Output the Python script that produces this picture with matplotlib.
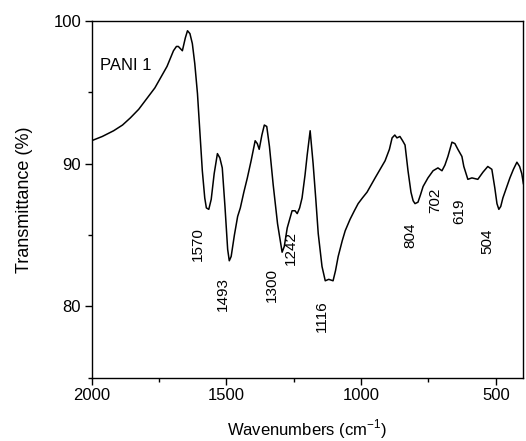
import matplotlib
matplotlib.use("Agg")
import matplotlib.pyplot as plt
from matplotlib.ticker import MultipleLocator

plt.rcParams['font.family'] = ['Liberation Sans', 'DejaVu Sans']
plt.rcParams['axes.unicode_minus'] = False

wavenumber = [2000, 1960, 1918, 1885, 1856, 1825, 1793, 1765, 1744, 1720, 1696, 1685, 1678, 1663,
              1652, 1644, 1635, 1626, 1617, 1607, 1598, 1589, 1580, 1574, 1565, 1556, 1545, 1533,
              1524, 1515, 1505, 1495, 1489, 1482, 1470, 1458, 1448, 1435, 1422, 1408, 1393, 1385,
              1378, 1368, 1359, 1350, 1340, 1326, 1310, 1293, 1285, 1274, 1256, 1245, 1237, 1228,
              1219, 1208, 1200, 1189, 1178, 1168, 1159, 1145, 1133, 1120, 1104, 1095, 1085, 1070,
              1059, 1041, 1025, 1011, 995, 978, 948, 911, 895, 885, 875, 867, 856, 846, 837, 826,
              815, 807, 800, 789, 780, 770, 752, 733, 715, 700, 689, 678, 663, 652, 641, 626, 619,
              604, 589, 567, 548, 530, 515, 504, 496, 489, 482, 474, 461, 448, 435, 422, 412, 404, 398]
transmittance = [91.6, 91.9, 92.3, 92.7, 93.2, 93.8, 94.6, 95.3, 96.0, 96.8, 97.9, 98.2, 98.2, 97.9,
                 98.8, 99.3, 99.1, 98.4, 97.0, 94.9, 92.2, 89.5, 87.6, 86.9, 86.8, 87.5, 89.3, 90.7,
                 90.4, 89.7, 87.0, 84.0, 83.2, 83.5, 85.0, 86.3, 86.9, 88.0, 89.0, 90.2, 91.6, 91.4,
                 91.0, 92.0, 92.7, 92.6, 91.2, 88.5, 85.8, 83.8, 84.2, 85.5, 86.7, 86.7, 86.5, 86.9,
                 87.6, 89.2, 90.6, 92.3, 90.0, 87.5, 85.1, 82.8, 81.8, 81.9, 81.8, 82.5, 83.5, 84.6,
                 85.3, 86.1, 86.7, 87.2, 87.6, 88.0, 89.0, 90.2, 91.0, 91.8, 92.0, 91.8, 91.9, 91.6, 91.3, 89.5,
                 88.0, 87.4, 87.2, 87.3, 87.8, 88.4, 89.0, 89.5, 89.7, 89.5, 89.9, 90.5, 91.5, 91.4, 91.0, 90.5, 89.8,
                 88.9, 89.0, 88.9, 89.4, 89.8, 89.6, 88.3, 87.2, 86.8, 87.0, 87.6, 88.3, 89.0, 89.6, 90.1, 89.8, 89.3, 88.6]

peak_labels = ["1570", "1493", "1300", "1242", "1116", "804", "702", "619", "504"]
label_x = [1604, 1511, 1330, 1259, 1144, 819, 726, 637, 530]
label_y = [84.4, 80.9, 81.5, 84.1, 79.3, 85.0, 87.4, 86.7, 84.6]

fig = plt.figure(figsize=(5.26, 4.41), dpi=100)
ax = fig.add_axes([0.174, 0.143, 0.820, 0.810])
ax.plot(wavenumber, transmittance, color='black', lw=1.1)
ax.set_xlim(2000, 400)
ax.set_ylim(75, 100)
ax.xaxis.set_major_locator(MultipleLocator(500))
ax.xaxis.set_minor_locator(MultipleLocator(250))
ax.yaxis.set_major_locator(MultipleLocator(10))
ax.yaxis.set_minor_locator(MultipleLocator(5))
ax.tick_params(which='major', length=5, width=1, labelsize=12, direction='out', pad=2.5)
ax.tick_params(which='minor', length=3, width=1, direction='out')
for s in ax.spines.values():
    s.set_linewidth(1)

for t, x, y in zip(peak_labels, label_x, label_y):
    ax.text(x, y, t, rotation=90, ha='center', va='center', fontsize=11)

ax.text(1967, 96.9, "PANI 1", ha='left', va='center', fontsize=12)
ax.set_xlabel(r"Wavenumbers (cm$^{\mathregular{-1}}$)", fontsize=12, labelpad=10)
ax.set_ylabel("Transmittance (%)", fontsize=13, labelpad=15)

fig.savefig("out.png", dpi=100)
